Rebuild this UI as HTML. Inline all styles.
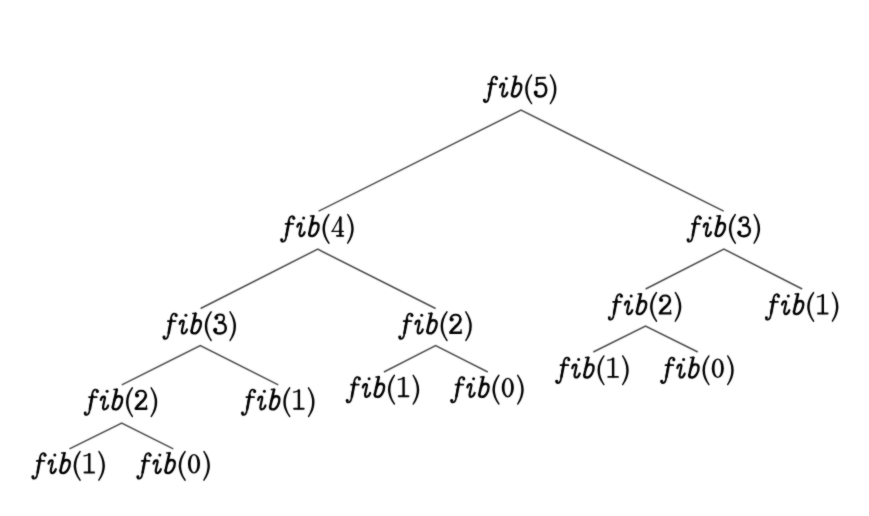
<!DOCTYPE html>
<html><head><meta charset="utf-8"><style>
html,body{margin:0;padding:0;background:#fff;width:869px;height:516px;overflow:hidden}
svg{display:block}
.lines path{fill:none;stroke:#4a4a4a;stroke-width:1.5;stroke-linejoin:miter}
.t{fill:#000}
.s{fill:none;stroke:#000;stroke-linecap:round;stroke-linejoin:round}
</style></head><body>
<svg width="869" height="516" viewBox="0 0 869 516">
<defs><filter id="bl" x="0" y="0" width="100%" height="100%" filterUnits="userSpaceOnUse"><feConvolveMatrix order="3" kernelMatrix="1 2 1 2 16 2 1 2 1" divisor="28" edgeMode="none"/></filter>
<g id="fib">
 <path class="s" stroke-width="1.8" d="M14.2,-18.2 C14.4,-19.8 12.9,-20.5 11.5,-20.3 C9.8,-20.0 9.1,-18.4 8.7,-16.2 L6.0,0.5 C5.5,3.6 4.2,5.0 2.6,5.0 C1.6,5.0 0.9,4.2 1.2,3.2"/>
 <path class="s" stroke-width="2.5" d="M8.9,-14.5 L6.3,-1.0"/>
 <circle cx="13.7" cy="-18.3" r="1.5"/>
 <circle cx="1.6" cy="3.1" r="1.45"/>
 <path class="s" stroke-width="1.7" stroke-linecap="butt" d="M5.4,-12.8 L13.2,-12.8"/>
 <circle cx="23.5" cy="-18.6" r="1.5"/>
 <path class="s" stroke-width="2.2" d="M17.2,-9.9 C17.6,-12.0 19.0,-13.3 20.3,-13.3 C21.3,-13.3 21.6,-12.5 21.2,-11.2 L19.6,-4.0 C19.2,-2.2 19.6,-0.5 20.8,-0.5 C22.4,-0.5 23.9,-2.2 24.6,-4.4"/>
 <path class="s" stroke-width="1.5" d="M30.4,-20.5 L33.8,-20.5"/>
 <path class="s" stroke-width="2.5" d="M33.2,-20.3 L29.2,-3.0"/>
 <path class="s" stroke-width="2.4" d="M30.8,-9.5 C31.8,-12.4 33.5,-13.6 35.3,-13.6 C37.3,-13.6 38.5,-12.3 38.5,-10.3 C38.5,-6.2 35.6,-0.5 31.8,-0.5 C30.0,-0.5 29.1,-1.6 29.1,-2.8"/>
 <path class="s" stroke-width="1.4" fill="#000" d="M48.8,-22.1 Q37.4,-7.75 48.8,6.6 Q39.4,-7.75 48.8,-22.1 Z"/>
 <path class="s" stroke-width="1.4" fill="#000" d="M67.6,-22.1 Q78.2,-7.75 67.6,6.6 Q76.2,-7.75 67.6,-22.1 Z"/>
</g>
<g id="d0"><path fill-rule="evenodd" d="M51.6,-9.8 A6.1,9.8 0 1,0 63.8,-9.8 A6.1,9.8 0 1,0 51.6,-9.8 Z M54.4,-9.8 A3.3,8.5 0 1,0 61.0,-9.8 A3.3,8.5 0 1,0 54.4,-9.8 Z"/></g>
<g id="d1">
 <path class="s" stroke-width="2.4" d="M58.0,-19.4 L58.0,-1.6"/>
 <path class="s" stroke-width="1.3" d="M58.0,-19.6 C56.4,-18.4 54.6,-17.8 52.6,-17.8"/>
 <path class="s" stroke-width="1.9" stroke-linecap="butt" d="M53.2,-1.1 L62.8,-1.1"/>
</g>
<g id="d2">
 <circle cx="53.5" cy="-14.5" r="2.0"/>
 <path class="s" stroke-width="2.0" d="M52.4,-14.6 C52.4,-17.4 54.8,-19.1 57.4,-19.1 C60.3,-19.1 62.2,-17.2 62.2,-14.6"/>
 <path class="s" stroke-width="2.7" d="M62.2,-14.6 C62.2,-11.4 59.6,-9.2 57.0,-7.0 C55.0,-5.2 53.4,-3.6 52.6,-1.8"/>
 <path class="s" stroke-width="2.3" stroke-linecap="butt" d="M52.0,-1.15 L62.8,-1.15"/>
 <path class="s" stroke-width="1.2" d="M62.6,-1.0 L62.9,-4.3"/>
</g>
<g id="d3">
 <circle cx="54.0" cy="-16.0" r="1.9"/>
 <path class="s" stroke-width="2.0" d="M53.0,-16.6 C54.0,-18.6 55.8,-19.4 57.6,-19.4 C60.2,-19.4 61.6,-18.0 61.6,-16.0 C61.6,-13.4 59.8,-11.4 56.6,-11.4"/>
 <path class="s" stroke-width="2.5" d="M56.6,-11.4 C60.8,-11.4 63.4,-9.2 63.4,-6.0 C63.4,-2.4 60.6,-0.4 57.4,-0.4 C54.8,-0.4 52.6,-1.6 52.0,-3.6"/>
 <circle cx="52.9" cy="-4.2" r="2.0"/>
</g>
<g id="d4">
 <path class="s" stroke-width="2.5" d="M60.3,-19.2 L60.3,-1.4"/>
 <path class="s" stroke-width="1.3" d="M60.0,-19.1 L52.4,-5.6"/>
 <path class="s" stroke-width="1.4" stroke-linecap="butt" d="M51.8,-5.2 L63.2,-5.2"/>
 <path class="s" stroke-width="1.8" stroke-linecap="butt" d="M56.8,-0.8 L63.2,-0.8"/>
</g>
<g id="d5">
 <path class="s" stroke-width="2.0" d="M53.9,-19.0 L62.2,-19.2"/>
 <path class="s" stroke-width="1.8" d="M54.0,-19.0 L54.0,-11.8"/>
 <path class="s" stroke-width="2.5" d="M53.8,-12.0 C55.0,-13.0 56.4,-13.4 57.9,-13.4 C61.2,-13.4 63.4,-10.8 63.4,-7.0 C63.4,-2.8 60.8,-0.4 57.5,-0.4 C54.9,-0.4 52.9,-1.8 52.3,-3.8"/>
 <circle cx="52.9" cy="-4.4" r="2.0"/>
</g>
</defs>
<rect width="869" height="516" fill="#fff"/>
<g filter="url(#bl)">
<g class="lines">
<path d="M318.6,211.2 L521,110.2 L723.7,211.2"/>
<path d="M200.6,308.5 L317.8,249.2 L435.6,308.5"/>
<path d="M645.6,289 L723.9,249.0 L802.2,289"/>
<path d="M121.8,384.8 L200.3,345.6 L278.3,384.8"/>
<path d="M383.9,372 L435.6,345.6 L487.8,372"/>
<path d="M593.3,352 L645.5,326.0 L697.8,352"/>
<path d="M69.5,448.8 L121.7,423.0 L173.3,448.8"/>
</g>
<g class="t">
<g transform="translate(482.80,97.00)"><use href="#fib"/><use href="#d5"/></g>
<g transform="translate(280.10,236.60)"><use href="#fib"/><use href="#d4"/></g>
<g transform="translate(686.50,236.60)"><use href="#fib"/><use href="#d3"/></g>
<g transform="translate(162.40,333.90)"><use href="#fib"/><use href="#d3"/></g>
<g transform="translate(398.20,333.90)"><use href="#fib"/><use href="#d2"/></g>
<g transform="translate(607.70,314.60)"><use href="#fib"/><use href="#d2"/></g>
<g transform="translate(764.80,314.60)"><use href="#fib"/><use href="#d1"/></g>
<g transform="translate(83.60,409.90)"><use href="#fib"/><use href="#d2"/></g>
<g transform="translate(240.90,409.90)"><use href="#fib"/><use href="#d1"/></g>
<g transform="translate(345.60,397.40)"><use href="#fib"/><use href="#d1"/></g>
<g transform="translate(450.10,397.40)"><use href="#fib"/><use href="#d0"/></g>
<g transform="translate(555.10,378.00)"><use href="#fib"/><use href="#d1"/></g>
<g transform="translate(660.10,378.00)"><use href="#fib"/><use href="#d0"/></g>
<g transform="translate(31.30,473.60)"><use href="#fib"/><use href="#d1"/></g>
<g transform="translate(136.30,473.60)"><use href="#fib"/><use href="#d0"/></g>
</g>
</g>
</svg></body></html>
